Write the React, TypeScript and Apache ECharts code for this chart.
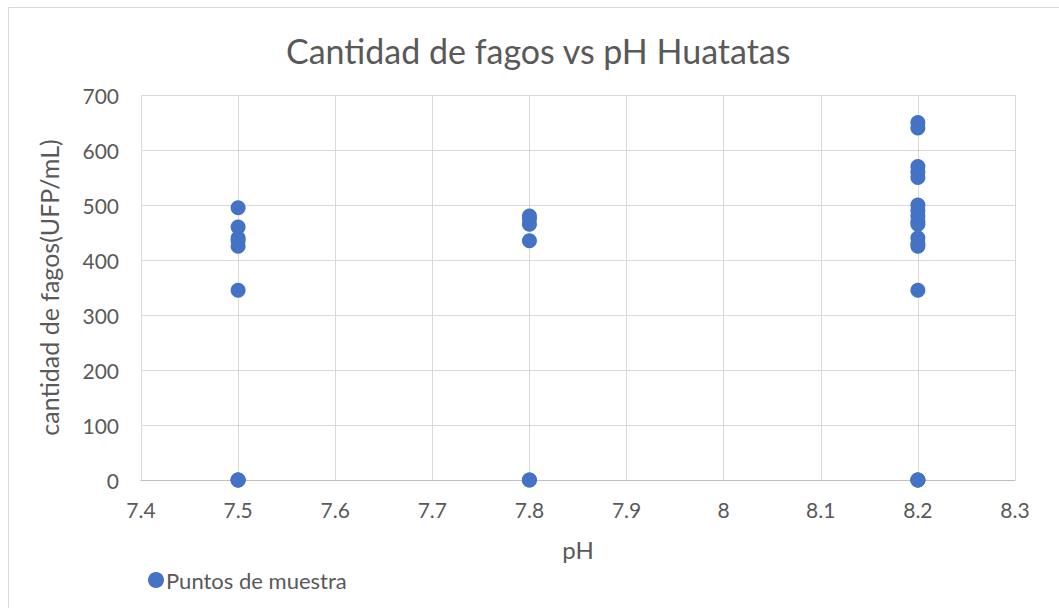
import React, { useEffect, useRef } from "react";
import * as echarts from "echarts";

const phValues = [7.5, 7.8, 8.2];
const fagosPh75 = [495, 460, 440, 435, 425, 345, 0, 0, 0];
const fagosPh78 = [480, 475, 465, 435, 0, 0];
const fagosPh82 = [650, 640, 570, 560, 550, 500, 490, 480, 470, 465, 440, 430, 425, 345, 0, 0, 0];
const groups = [fagosPh75, fagosPh78, fagosPh82];

const FONT = "Lato, 'Open Sans', sans-serif";
const TEXT = "#595959";

export default function App() {
  const ref = useRef<HTMLDivElement>(null);
  useEffect(() => {
    if (!ref.current) return;
    const chart = echarts.init(ref.current, undefined, { renderer: "svg" });
    const data: number[][] = [];
    groups.forEach((g, i) => g.forEach((v) => data.push([phValues[i], v])));
    chart.setOption({
      animation: false,
      backgroundColor: "#ffffff",
      title: {
        text: "Cantidad de fagos vs pH Huatatas",
        left: 281,
        top: 28,
        textStyle: { fontFamily: FONT, fontSize: 34, fontWeight: "normal", color: TEXT },
      },
      graphic: [
        {
          type: "rect",
          shape: { x: 8.5, y: 7.5, width: 1100, height: 700 },
          style: { fill: "none", stroke: "#d9d9d9", lineWidth: 1 },
          silent: true,
        },
      ],
      legend: {
        left: 143,
        top: 564,
        itemWidth: 16,
        itemHeight: 16,
        itemGap: 4,
        textStyle: { fontFamily: FONT, fontSize: 22, color: TEXT, padding: [0, 0, 0, -3] },
        data: [{ name: "Puntos de muestra", icon: "circle" }],
      },
      grid: { left: 141, right: 44, top: 95, bottom: 128 },
      xAxis: {
        type: "value",
        min: 7.4,
        max: 8.3,
        interval: 0.1,
        name: "pH",
        nameLocation: "middle",
        nameGap: 57,
        nameTextStyle: { fontFamily: FONT, fontSize: 24, color: TEXT },
        axisLine: { show: true, lineStyle: { color: "#bfbfbf", width: 1 } },
        axisTick: { show: false },
        splitLine: { show: true, lineStyle: { color: "#d9d9d9", width: 1 } },
        axisLabel: {
          fontFamily: FONT,
          fontSize: 21,
          color: TEXT,
          margin: 19,
          formatter: (v: number) => String(Math.round(v * 10) / 10),
        },
      },
      yAxis: {
        type: "value",
        min: 0,
        max: 700,
        interval: 100,
        name: "cantidad de fagos(UFP/mL)",
        nameLocation: "middle",
        nameGap: 80,
        nameTextStyle: { fontFamily: FONT, fontSize: 25, color: TEXT },
        axisLine: { show: false },
        axisTick: { show: false },
        splitLine: { show: true, lineStyle: { color: "#d9d9d9", width: 1 } },
        axisLabel: { fontFamily: FONT, fontSize: 21, color: TEXT, margin: 22 },
      },
      series: [
        {
          name: "Puntos de muestra",
          type: "scatter",
          symbol: "circle",
          symbolSize: 15,
          itemStyle: { color: "#4472C4", opacity: 1 },
          data,
        },
      ],
    });
    return () => chart.dispose();
  }, []);
  return (
    <div
      ref={ref}
      style={{ position: "fixed", left: 0, top: 0, width: 1059, height: 608, background: "#fff" }}
    />
  );
}
